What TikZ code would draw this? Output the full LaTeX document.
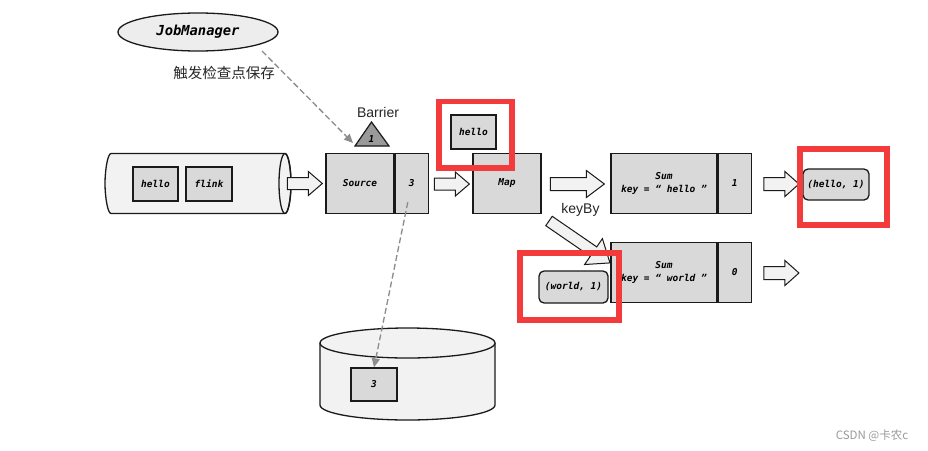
\documentclass[tikz,border=0pt]{standalone}
\usepackage{fontspec}
\setmainfont{Liberation Sans}
\newfontfamily\monof{DejaVu Sans Mono}
\newfontfamily\cjkf{Noto Sans CJK SC}
\usetikzlibrary{arrows.meta,calc,shapes.geometric}
\definecolor{boxgray}{HTML}{D9D9D9}
\definecolor{lightfill}{HTML}{F2F2F2}
\definecolor{redmark}{HTML}{F43B3B}
\definecolor{dashgray}{HTML}{8C8C8C}
\definecolor{trigray}{HTML}{9A9A9A}
\definecolor{edge}{HTML}{1A1A1A}
\definecolor{wmgray}{HTML}{9A9A9A}
\tikzset{
  lbl/.style={font=\monof\bfseries\itshape\fontsize{9.5}{13}\selectfont},
  box/.style={draw=edge, line width=1.3pt, fill=boxgray, inner sep=0pt, lbl},
  rbox/.style={box, rounded corners=5pt},
  outline/.style={draw=edge, line width=1.3pt, fill=lightfill},
  dasharrow/.style={draw=dashgray, line width=1.3pt, dash pattern=on 6pt off 3pt,
    -{Triangle[length=9pt,width=8pt,fill=dashgray]}},
  redbox/.style={draw=redmark, line width=5.5pt},
  caption/.style={font=\fontsize{14}{16}\selectfont, text=black!85},
  pics/barrow/.style n args={4}{code={
    \draw[line width=1pt, draw=edge, fill=lightfill, line join=miter]
      (0,-#3) -- (#1-#2,-#3) -- (#1-#2,-#4) -- (#1,0) -- (#1-#2,#4) -- (#1-#2,#3) -- (0,#3) -- cycle;}}
}
\begin{document}
\begin{tikzpicture}[x=1pt,y=-1pt]
\useasboundingbox[fill=white] (0,0) rectangle (928,450);

% JobManager
\node[outline, ellipse, fill=black!7, minimum width=160, minimum height=38, inner sep=0pt,
  font=\monof\bfseries\itshape\fontsize{13.8}{15}\selectfont] (jm) at (198,32) {JobManager};
\node[font=\cjkf\fontsize{14.5}{16}\selectfont, text=black!85] (trig) at (224,73) {触发检查点保存};

% pipe (source queue)
\path[outline] (285,153.5) -- (111,153.5)
  .. controls (107.7,153.5) and (105,170.1) .. (105,183.5)
  .. controls (105,196.9) and (107.7,213.5) .. (111,213.5)
  -- (285,213.5)
  .. controls (288.3,213.5) and (291,196.9) .. (291,183.5)
  .. controls (291,170.1) and (288.3,153.5) .. (285,153.5) -- cycle;
\draw[draw=edge, line width=1.3pt] (285,183.5) ellipse [x radius=6, y radius=30];
\node[box, minimum width=45, minimum height=34] (w1) at (155.5,184) {hello};
\node[box, minimum width=46, minimum height=34] (w2) at (209,184) {flink};

% Source
\node[box, minimum width=68, minimum height=60] (src) at (360,183.5) {Source};
\node[box, minimum width=33, minimum height=60, anchor=west] (src3) at (src.east) {3};

% Barrier
\node[caption] (barrier) at (378,112) {Barrier};
\draw[draw=edge, line width=1.2pt, fill=trigray, line join=miter] (355,146) -- (371.5,122) -- (389,146) -- cycle;
\node[lbl] (b1) at (371.5,139) {1};
\coordinate (jmout) at (262,51);
\coordinate (barin) at (353,143);
\draw[dasharrow] (jmout) -- (barin);

% Map
\node[box, minimum width=68, minimum height=60] (map) at (507,183.5) {Map};
\node[box, minimum width=45, minimum height=34] (hw) at (473.5,132) {hello};

% Sum hello
\node[box, minimum width=106, minimum height=60, align=center] (sumh) at (664,183.5) {Sum\\key = “ hello ”};
\node[box, minimum width=33, minimum height=60, anchor=west] (sumh1) at (sumh.east) {1};
\node[rbox, minimum width=66, minimum height=31] (hello1) at (836,184.5) {(hello, 1)};

% Sum world
\node[box, minimum width=106, minimum height=60, align=center] (sumw) at (664,272.5) {Sum\\key = “ world ”};
\node[box, minimum width=33, minimum height=60, anchor=west] (sumw0) at (sumw.east) {0};
\node[rbox, minimum width=69, minimum height=32] (world1) at (573.5,287) {(world, 1)};

\node[caption] (keyby) at (580.5,210) {keyBy};

% block arrows
\pic at ($(src.west)+(-38,0)$) {barrow={35}{14}{6}{12}};
\pic at ($(map.west)+(-38,0.5)$) {barrow={35}{14}{6}{12}};
\pic at ($(sumh.west)+(-60,0.5)$) {barrow={54}{18}{6.5}{13.5}};
\pic at ($(sumh1.east)+(12,0.5)$) {barrow={35}{14}{6.5}{12.5}};
\pic at ($(sumw0.east)+(12,0.5)$) {barrow={35}{14}{6.5}{12.5}};
\pic[rotate=-34.5] at (549,221) {barrow={74}{20}{5.7}{15.7}};

% database
\path[outline] (320,343) -- (320,405)
  .. controls (320,413.3) and (359.2,420) .. (407.5,420)
  .. controls (455.8,420) and (495,413.3) .. (495,405) -- (495,343);
\draw[outline] (407.5,343) ellipse [x radius=87.5, y radius=15];
\node[box, minimum width=46, minimum height=33] (db3) at (374,384.5) {3};
\draw[dasharrow] ($(src3.south)+(-4,-12)$) -- (db3.north);

% highlight frames
\draw[redbox] (439,101.5) rectangle (512,168);
\draw[redbox] (800,149) rectangle (887,225);
\draw[redbox] (520,253) rectangle (619,320);

% watermark
\node[font=\cjkf\fontsize{11.5}{13}\selectfont, text=wmgray] (wm) at (872,436) {CSDN @卡农c};
\end{tikzpicture}
\end{document}
